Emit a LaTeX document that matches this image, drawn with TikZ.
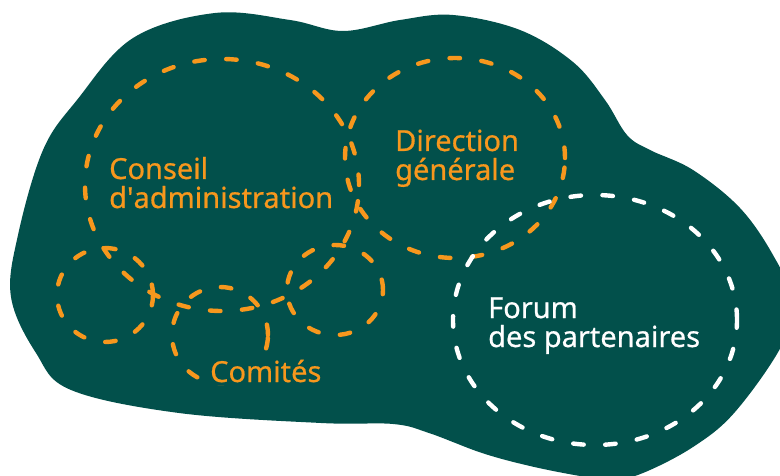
\documentclass[tikz,border=0pt]{standalone}
\usepackage{fontspec}
\setmainfont{Noto Sans}
\newfontfamily\ringfont{Noto Sans}[FakeBold=0.6]
\usetikzlibrary{shapes.geometric}
\definecolor{blobteal}{HTML}{02504B}
\definecolor{ringorange}{HTML}{F7971D}
\begin{document}
\begin{tikzpicture}[x=1pt,y=-1pt]

\tikzset{
    ring/.style={ellipse, draw=ringorange, line width=4.4pt, line cap=round, dash pattern=on 10.5pt off 21.5pt, inner sep=0pt},
    bodytext/.style={text=ringorange, font=\ringfont\fontsize{29}{29}\selectfont, align=left, anchor=base west, inner sep=0pt}
}
\useasboundingbox (0,0) rectangle (780,476);
\clip (0,0) rectangle (780,476);
\fill[blobteal] plot[smooth cycle, tension=0.6] coordinates {
    (11,297) (18,235) (43,150) (77,100) (133,38) (215,13) (290,20) (343,31) (400,20) (453,15)
    (520,30) (573,62) (605,100) (627,135) (650,150) (693,170) (740,208) (773,255) (792,300)
    (782,345) (735,412) (693,447) (643,473) (612,480) (580,476) (530,466) (482,453) (429,433)
    (393,424) (321,423) (179,413) (71,390) (36,353)};

\node[ring, minimum width=274pt, minimum height=252pt] (conseil) at (222,185) {};
\node[ring, minimum width=220pt, minimum height=200pt] (direction) at (455,158) {};
\node[ring, minimum width=96pt, minimum height=94pt] (gauche) at (105,295) {};
\node[ring, minimum width=96pt, minimum height=96pt] (comites) at (220,335) {};
\node[ring, minimum width=96pt, minimum height=90pt] (droite) at (335,290) {};
\node[ring, draw=white, minimum width=284pt, minimum height=250pt] (forum) at (595,320) {};

\node[bodytext] (conseiltxt) at (109,208) {Conseil\\d\textquotesingle administration};
\node[bodytext] (directiontxt) at (395,180) {Direction\\générale};
\node[bodytext, text=white] (forumtxt) at (488,347) {Forum\\des partenaires};
\node[bodytext, fill=blobteal, inner sep=3pt] (comitestxt) at (207,382) {Comités};
\end{tikzpicture}
\end{document}
